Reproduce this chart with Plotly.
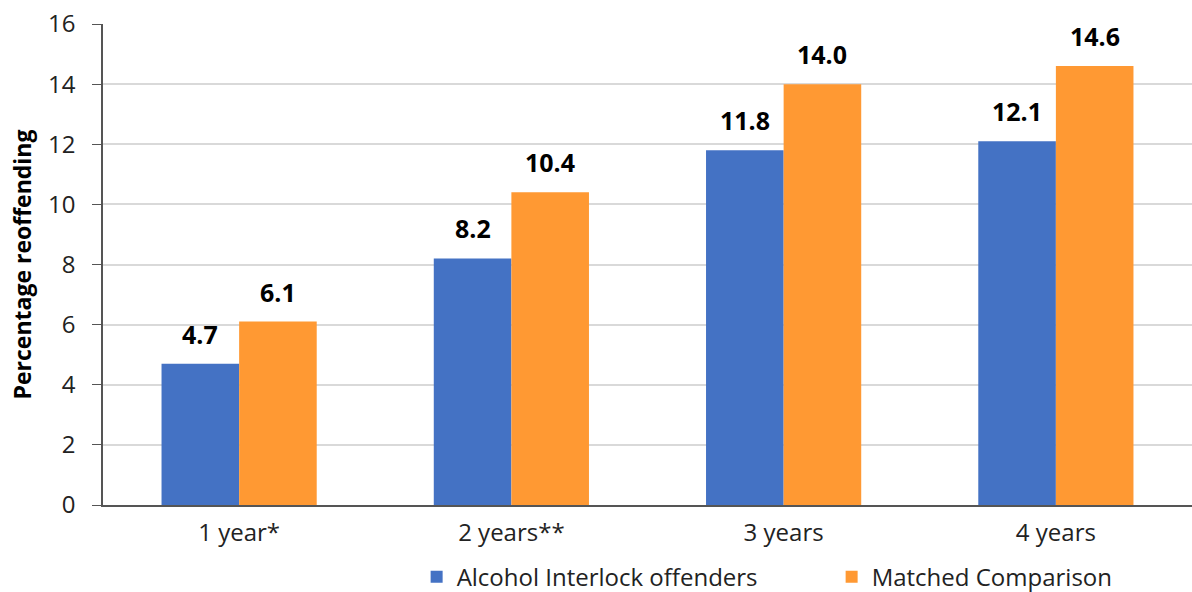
import plotly.graph_objects as go

categories = ["1 year*", "2 years**", "3 years", "4 years"]
interlock = [4.7, 8.2, 11.8, 12.1]
comparison = [6.1, 10.4, 14.0, 14.6]
series_names = ["Alcohol Interlock offenders", "Matched Comparison"]
colors = ["#4472C4", "#FF9933"]

W, H = 1192, 592
ML, MR, MT, MB = 103, 0, 24, 87
BARGAP = 0.43

FONT = "'Open Sans', Lato, sans-serif"

fig = go.Figure()
for name, vals, col in zip(series_names, [interlock, comparison], colors):
    fig.add_trace(go.Bar(x=categories, y=vals, name=name, marker_color=col,
                         marker_line_width=0))

# value labels above each bar, centred on the bar
cat_px = (W - ML - MR) / len(categories)
bar_px = cat_px * (1 - BARGAP) / 2
for i, vals in enumerate([interlock, comparison]):
    shift = (i - 0.5) * bar_px
    for c, v in zip(categories, vals):
        fig.add_annotation(x=c, y=v, text=f"{v:.1f}", showarrow=False,
                           xshift=shift, yshift=30,
                           font=dict(family=FONT, size=25, color="#000000", weight="bold"))

fig.update_layout(
    width=W, height=H,
    margin=dict(l=ML, r=MR, t=MT, b=MB, autoexpand=False),
    paper_bgcolor="white", plot_bgcolor="white",
    barmode="group", bargap=BARGAP, bargroupgap=0,
    font=dict(family=FONT, size=24, color="#222222"),
    showlegend=True,
    legend=dict(orientation="h", xref="paper", x=0.288, xanchor="left",
                yref="container", y=0.025, yanchor="middle",
                font=dict(family=FONT, size=24, color="#222222"),
                itemwidth=30, traceorder="normal",
                entrywidthmode="pixels", entrywidth=370),
)
fig.update_xaxes(showline=True, linecolor="#555555", linewidth=1.5,
                 ticks="", tickfont=dict(size=24), showgrid=False,
                 ticklabelstandoff=5, automargin=False)
fig.update_yaxes(range=[0, 16], dtick=2, showline=True, linecolor="#555555", linewidth=1.5,
                 ticks="outside", ticklen=9, tickcolor="#555555",
                 gridcolor="#D9D9D9", gridwidth=1.5, zeroline=False,
                 tickfont=dict(size=24), ticklabelstandoff=12, automargin=False,
                 title=dict(text="Percentage reoffending", standoff=10,
                            font=dict(family=FONT, size=23, color="#000000", weight="bold")))

fig.write_html("out.html")
